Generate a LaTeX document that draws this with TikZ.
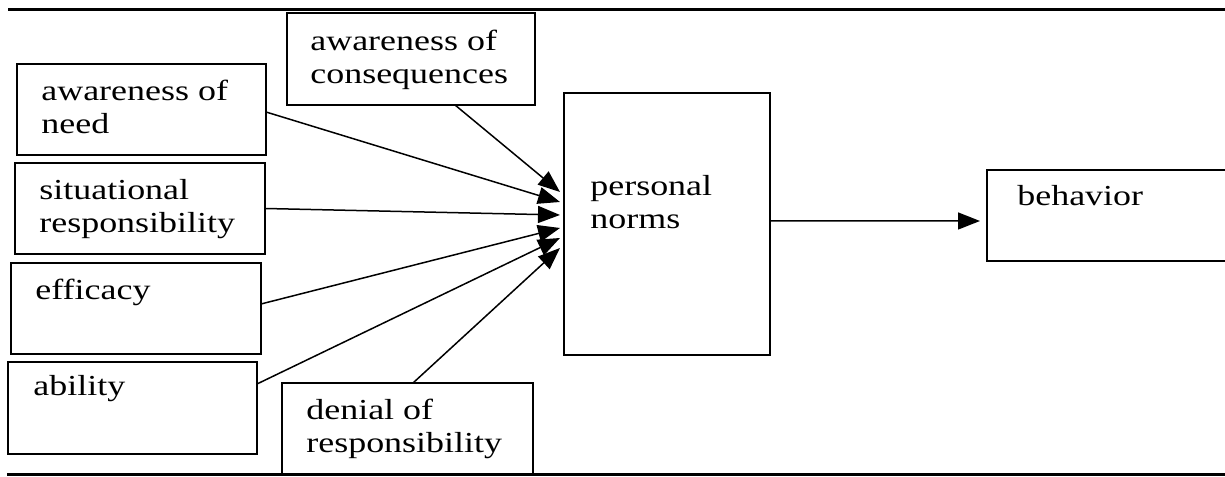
\documentclass[tikz,border=0pt]{standalone}
\usepackage{fontspec}
\setmainfont{Liberation Serif}[FakeStretch=1.24]
\usetikzlibrary{arrows.meta}

\tikzset{
  box/.style={draw, line width=0.04cm, inner sep=0pt, outer sep=0pt},
  boxtext/.style={anchor=north west, inner sep=0pt, align=left,
                  font=\fontsize{16.5}{18.8}\selectfont},
  arr/.style={line width=0.03cm, -{Triangle[length=0.44cm,width=0.34cm]}},
  rule/.style={line width=0.06cm}
}

\begin{document}
\begin{tikzpicture}
                        \useasboundingbox (0,0) rectangle (24.500000,9.540000);

                        % Drawing top and bottom rules
                        \draw [rule] (0.160000,9.340000) -- (24.500000,9.340000);%
                        \draw [rule] (0.140000,0.050000) -- (24.500000,0.050000);%

                        % Drawing boxes
                        \node [box, minimum width=4.96cm, minimum height=1.84cm] (cons) at (8.220000,8.360000) {};%
                        \node [box, minimum width=4.98cm, minimum height=1.82cm] (need) at (2.830000,7.350000) {};%
                        \node [box, minimum width=5.00cm, minimum height=1.82cm] (sit) at (2.800000,5.370000) {};%
                        \node [box, minimum width=5.00cm, minimum height=1.82cm] (eff) at (2.720000,3.370000) {};%
                        \node [box, minimum width=4.98cm, minimum height=1.84cm] (abil) at (2.650000,1.380000) {};%
                        \node [box, minimum width=5.02cm, minimum height=1.84cm] (denial) at (8.150000,0.960000) {};%
                        \node [box, minimum width=4.12cm, minimum height=5.24cm] (norms) at (13.340000,5.060000) {};%
                        \node [box, minimum width=5.16cm, minimum height=1.82cm] (behav) at (22.320000,5.230000) {};%

                        % Marking box texts
                        \node [boxtext] (cons-t) at ([xshift=0.46cm,yshift=-0.34cm]cons.north west) {awareness of\\consequences};%
                        \node [boxtext] (need-t) at ([xshift=0.48cm,yshift=-0.32cm]need.north west) {awareness of\\need};%
                        \node [boxtext] (sit-t) at ([xshift=0.48cm,yshift=-0.32cm]sit.north west) {situational\\responsibility};%
                        \node [boxtext] (eff-t) at ([xshift=0.48cm,yshift=-0.32cm]eff.north west) {efficacy};%
                        \node [boxtext] (abil-t) at ([xshift=0.50cm,yshift=-0.26cm]abil.north west) {ability};%
                        \node [boxtext] (denial-t) at ([xshift=0.48cm,yshift=-0.32cm]denial.north west) {denial of\\responsibility};%
                        \node [boxtext] (norms-t) at ([xshift=0.52cm,yshift=-1.64cm]norms.north west) {personal\\norms};%
                        \node [boxtext] (behav-t) at ([xshift=0.60cm,yshift=-0.30cm]behav.north west) {behavior};%

                        % Drawing arrows into personal norms
                        \draw [arr] ([xshift=0.88cm]cons.south) -- ([xshift=-0.08cm,yshift=0.64cm]norms.west);%
                        \draw [arr] ([yshift=-0.05cm]need.east) -- ([xshift=-0.08cm,yshift=0.44cm]norms.west);%
                        \draw [arr] (sit.east) -- ([xshift=-0.08cm,yshift=0.18cm]norms.west);%
                        \draw [arr] ([yshift=0.09cm]eff.east) -- ([xshift=-0.08cm,yshift=-0.08cm]norms.west);%
                        \draw [arr] ([yshift=0.48cm]abil.east) -- ([xshift=-0.08cm,yshift=-0.28cm]norms.west);%
                        \draw [arr] ([xshift=0.11cm]denial.north) -- ([xshift=-0.08cm,yshift=-0.48cm]norms.west);%

                        % Drawing arrow to behavior
                        \draw [arr] ([yshift=0.06cm]norms.east) -- ([xshift=-0.14cm,yshift=-0.11cm]behav.west);%
                    \end{tikzpicture}
\end{document}
